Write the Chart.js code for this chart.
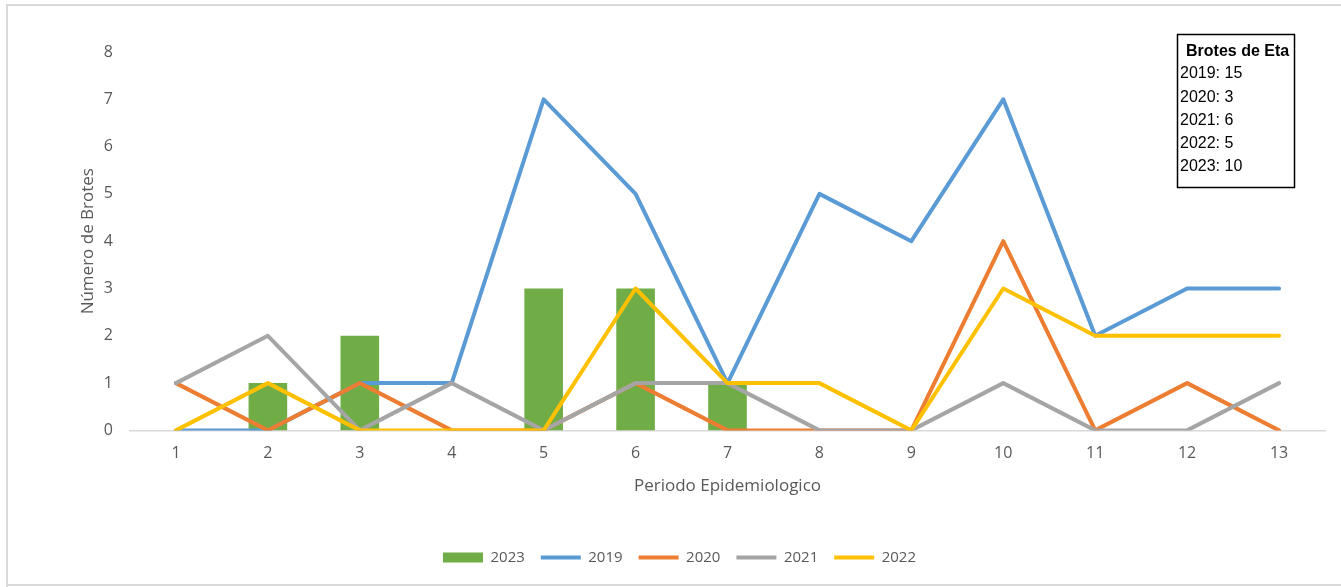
<!DOCTYPE html>
<html>
<head>
<meta charset="utf-8">
<script src="https://cdn.jsdelivr.net/npm/chart.js@4"></script>
<style>
html,body{margin:0;padding:0;background:#fff;}
#wrap{position:relative;width:1341px;height:587px;}
</style>
</head>
<body>
<div id="wrap"><canvas id="c" width="1341" height="587"></canvas></div>
<script>
const periods = ['1','2','3','4','5','6','7','8','9','10','11','12','13'];
const brotes2023 = [0,1,2,0,3,3,1,0,0,0,0,0,0];
const brotes2019 = [0,0,1,1,7,5,1,5,4,7,2,3,3];
const brotes2020 = [1,0,1,0,0,1,0,0,0,4,0,1,0];
const brotes2021 = [1,2,0,1,0,1,1,0,0,1,0,0,1];
const brotes2022 = [0,1,0,0,0,3,1,1,0,3,2,2,2];
const boxTitle = 'Brotes de Eta';
const boxLines = ['2019: 15','2020: 3','2021: 6','2022: 5','2023: 10'];

const FONT = "'Open Sans', sans-serif";
const GREY = '#595959';

const lineDs = (label, data, color, order) => ({
  type: 'line', label, data, borderColor: color, backgroundColor: color,
  borderWidth: 4, pointRadius: 0, pointHoverRadius: 0, tension: 0,
  borderCapStyle: 'round', borderJoinStyle: 'round', pointStyle: 'line', order
});

const boxPlugin = {
  id: 'boxPlugin',
  afterLayout(chart) {
    if (chart.legend) { chart.legend.left -= 22; chart.legend.right -= 22; }
  },
  afterDraw(chart) {
    const ctx = chart.ctx;
    ctx.save();
    ctx.strokeStyle = '#d9d9d9';
    ctx.lineWidth = 2;
    ctx.beginPath();
    ctx.moveTo(7, 587); ctx.lineTo(7, 5); ctx.lineTo(1341, 5);
    ctx.moveTo(7, 585); ctx.lineTo(1341, 585);
    ctx.stroke();
    ctx.strokeStyle = '#000';
    ctx.lineWidth = 1.5;
    ctx.strokeRect(1177.5, 34.5, 117, 153);
    ctx.fillStyle = '#000';
    ctx.textBaseline = 'middle';
    ctx.textAlign = 'left';
    ctx.font = "bold 16px 'Liberation Sans', Arial, sans-serif";
    ctx.fillText(boxTitle, 1186, 52);
    ctx.font = "16px 'Liberation Sans', Arial, sans-serif";
    boxLines.forEach((t, i) => ctx.fillText(t, 1180, 74 + i * 23.2));
    ctx.restore();
  }
};

new Chart(document.getElementById('c'), {
  type: 'bar',
  data: {
    labels: periods,
    datasets: [
      { type: 'bar', label: '2023', data: brotes2023, backgroundColor: '#70AD47',
        borderWidth: 0, barPercentage: 0.42, categoryPercentage: 1, pointStyle: 'rect', order: 5 },
      lineDs('2019', brotes2019, '#5B9BD5', 4),
      lineDs('2020', brotes2020, '#ED7D31', 3),
      lineDs('2021', brotes2021, '#A5A5A5', 2),
      lineDs('2022', brotes2022, '#FFC000', 1)
    ]
  },
  options: {
    responsive: false,
    animation: false,
    layout: { padding: { left: 78, right: 16, top: 52, bottom: 12 } },
    plugins: {
      tooltip: { enabled: false },
      legend: {
        position: 'bottom',
        labels: {
          usePointStyle: true, pointStyleWidth: 40, boxHeight: 10,
          color: GREY, font: { family: FONT, size: 15 }, padding: 16,
          sort: (a, b) => a.datasetIndex - b.datasetIndex
        }
      }
    },
    scales: {
      x: {
        offset: true,
        grid: { display: false, drawTicks: false },
        border: { color: '#d9d9d9', width: 1.5 },
        ticks: { color: GREY, font: { family: FONT, size: 16 }, padding: 13 },
        title: { display: true, text: 'Periodo Epidemiologico', color: GREY,
                 font: { family: FONT, size: 17 }, padding: { top: 0, bottom: 38 } }
      },
      y: {
        min: 0, max: 8,
        grid: { display: false, drawTicks: false },
        border: { display: false },
        ticks: { stepSize: 1, color: GREY, font: { family: FONT, size: 16 }, padding: 17 },
        title: { display: true, text: 'Número de Brotes', color: GREY,
                 font: { family: FONT, size: 17 }, padding: { top: 0, bottom: 0 } },
        afterFit(scale) { scale.width = 52; }
      }
    }
  },
  plugins: [boxPlugin]
});
</script>
</body>
</html>
